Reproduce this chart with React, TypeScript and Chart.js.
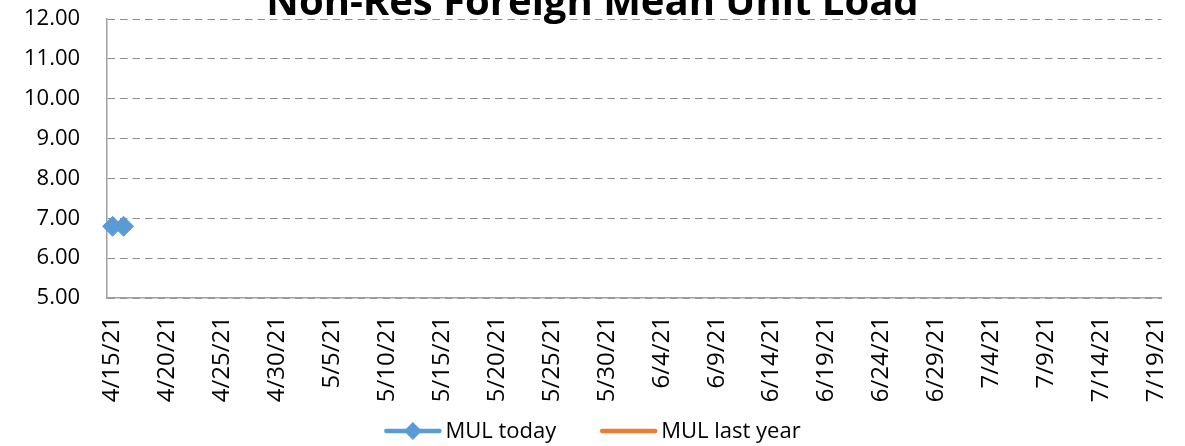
import React, { useEffect, useRef } from "react";
import { Chart, registerables } from "chart.js";

Chart.register(...registerables);

// ---- data ----
const chartTitle = "Non-Res Foreign Mean Unit Load";
const firstDay = { year: 2021, month: 4, day: 15 };
const dayCount = 96; // 4/15/21 .. 7/19/21
const labelEvery = 5;
const categories: string[] = Array.from({ length: dayCount }, (_, i) => {
  const d = new Date(firstDay.year, firstDay.month - 1, firstDay.day + i);
  return `${d.getMonth() + 1}/${d.getDate()}/${String(d.getFullYear()).slice(2)}`;
});
const mulToday: (number | null)[] = [6.8, 6.8];
const mulLastYear: (number | null)[] = [];
const seriesNames = ["MUL today", "MUL last year"];
const seriesColors = ["#5b9bd5", "#ed7d31"];
const yMin = 5;
const yMax = 12;
const yStep = 1;

const FONT = "'Open Sans', 'Noto Sans', sans-serif";

const titlePlugin = {
  id: "customTitle",
  afterDraw(chart: any) {
    const ctx = chart.ctx;
    ctx.save();
    ctx.font = `bold 40px ${FONT}`;
    ctx.fillStyle = "#000";
    ctx.textAlign = "center";
    ctx.textBaseline = "alphabetic";
    ctx.fillText(chartTitle, chart.width / 2, 15);
    ctx.restore();
  },
};

const legendPlugin = {
  id: "customLegend",
  afterDraw(chart: any) {
    const ctx = chart.ctx;
    ctx.save();
    ctx.font = `22px ${FONT}`;
    const lineLen = 57;
    const textGap = 4;
    const itemGap = 44;
    const items = chart.data.datasets.map((ds: any) => ({
      label: ds.label,
      color: ds.borderColor,
      marker: ds.pointRadius > 0,
      w: ctx.measureText(ds.label).width,
    }));
    const total = items.reduce(
      (s: number, it: any, i: number) => s + lineLen + textGap + it.w + (i > 0 ? itemGap : 0),
      0
    );
    let x = (chart.width - total) / 2;
    const lineY = 431;
    items.forEach((it: any, i: number) => {
      if (i > 0) x += itemGap;
      ctx.strokeStyle = it.color;
      ctx.lineWidth = 4.5;
      ctx.lineCap = "round";
      ctx.beginPath();
      ctx.moveTo(x + 2, lineY);
      ctx.lineTo(x + lineLen - 2, lineY);
      ctx.stroke();
      if (it.marker) {
        const cx = x + lineLen / 2;
        const r = 9;
        ctx.fillStyle = it.color;
        ctx.beginPath();
        ctx.moveTo(cx - r, lineY);
        ctx.lineTo(cx, lineY - r);
        ctx.lineTo(cx + r, lineY);
        ctx.lineTo(cx, lineY + r);
        ctx.closePath();
        ctx.fill();
      }
      x += lineLen + textGap;
      ctx.fillStyle = "#000";
      ctx.textAlign = "left";
      ctx.textBaseline = "middle";
      ctx.fillText(it.label, x, lineY + 1);
      x += it.w;
    });
    ctx.restore();
  },
};

export default function App() {
  const canvasRef = useRef<HTMLCanvasElement | null>(null);

  useEffect(() => {
    if (!canvasRef.current) return;
    const chart = new Chart(canvasRef.current, {
      type: "line",
      data: {
        labels: categories,
        datasets: [
          {
            label: seriesNames[0],
            data: mulToday,
            borderColor: seriesColors[0],
            backgroundColor: seriesColors[0],
            borderWidth: 4,
            pointStyle: "rectRot",
            pointRadius: 10,
            pointBorderWidth: 1,
            pointBackgroundColor: seriesColors[0],
            pointBorderColor: seriesColors[0],
          },
          {
            label: seriesNames[1],
            data: mulLastYear,
            borderColor: seriesColors[1],
            backgroundColor: seriesColors[1],
            borderWidth: 4,
            pointRadius: 0,
          },
        ],
      },
      options: {
        responsive: false,
        animation: false,
        layout: { padding: { left: 24, right: 22, top: 19, bottom: 36 } },
        plugins: {
          legend: { display: false },
          title: { display: false },
          tooltip: { enabled: false },
        },
        scales: {
          x: {
            type: "category",
            offset: true,
            grid: {
              display: true,
              drawOnChartArea: false,
              drawTicks: true,
              tickLength: 18,
              tickColor: "rgba(0,0,0,0)",
            },
            border: { display: true, color: "#a0a0a0", width: 1.5 },
            ticks: {
              autoSkip: false,
              minRotation: 90,
              maxRotation: 90,
              padding: 0,
              color: "#000",
              font: { family: FONT, size: 24 },
              callback: (_v: any, i: number) => (i % labelEvery === 0 ? categories[i] : null),
            },
            afterFit: (s: any) => {
              s.height = 112;
            },
          },
          y: {
            min: yMin,
            max: yMax,
            grid: {
              color: "#8c8c8c",
              lineWidth: 1,
              drawTicks: true,
              tickLength: 27,
              tickColor: "rgba(0,0,0,0)",
            },
            border: { display: true, color: "#a0a0a0", width: 1.5, dash: [7.5, 5] },
            ticks: {
              stepSize: yStep,
              padding: 0,
              color: "#000",
              font: { family: FONT, size: 22 },
              callback: (v: any) => Number(v).toFixed(2),
            },
          },
        },
      },
      plugins: [titlePlugin, legendPlugin],
    });
    return () => chart.destroy();
  }, []);

  return (
    <div style={{ position: "absolute", left: 0, top: 0, width: 1185, height: 446, background: "#fff" }}>
      <canvas ref={canvasRef} width={1185} height={446} />
    </div>
  );
}
